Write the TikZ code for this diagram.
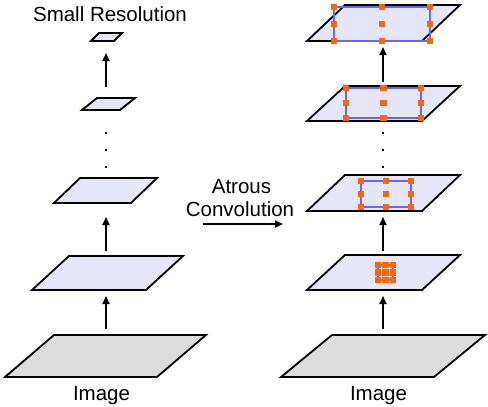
\documentclass[tikz,border=0pt]{standalone}
\usepackage{fontspec}
\setmainfont{Liberation Sans}
\usetikzlibrary{arrows.meta}
\definecolor{lav}{RGB}{230,230,250}
\definecolor{imggray}{RGB}{220,220,220}
\definecolor{myblue}{RGB}{102,102,255}
\definecolor{myorange}{RGB}{255,102,0}
\newcommand\plg[6]{\draw[#1] (#2,#3) -- ++(#4,0) -- ++(#5,-#6) -- ++(-#4,0) -- cycle;}
\newcommand\kgrid[5]{%
  \draw[bluerect] (#1,#2) rectangle (#3,#4);
  \foreach \i in {0,0.5,1}{\foreach \j in {0,0.5,1}{%
    \fill[myorange] ({#1+\i*(#3-#1)-#5/2},{#2+\j*(#4-#2)-#5/2}) rectangle ++(#5,#5);}}}
\begin{document}
\begin{tikzpicture}[x=1pt,y=-1pt,
  layer/.style={draw=black, line width=1.8pt, fill=lav, line join=miter},
  imglayer/.style={layer, fill=imggray},
  arr/.style={-{Triangle[length=8pt,width=7pt]}, line width=1.8pt},
  lbl/.style={font=\fontsize{20.5}{24}\selectfont, anchor=base, inner sep=0pt},
  vdot/.style={fill=black, minimum size=2.8pt, inner sep=0pt, draw=none},
  bluerect/.style={draw=myblue, line width=1.8pt}]
\useasboundingbox (0,0) rectangle (488,407);
% left column
\plg{imglayer}{5}{377}{152}{49}{42}
\plg{layer}{32}{290}{114}{37}{34}
\plg{layer}{54}{203}{77}{26}{25}
\plg{layer}{82}{110}{38}{15}{12}
\plg{layer}{91}{41}{23}{8}{8}
% right column
\plg{imglayer}{281}{377}{153}{51}{42}
\plg{layer}{307}{290}{115}{38}{35}
\plg{layer}{307}{211}{115}{38}{36}
\plg{layer}{307}{121}{115}{38}{35}
\plg{layer}{307}{41}{115}{38}{36}
% kernels
\kgrid{378}{265}{393}{280}{6.3}
\kgrid{361}{181}{411}{207}{6.8}
\kgrid{346}{88}{421}{118}{6.8}
\kgrid{334}{7}{430}{41}{6.8}
% labels
\node[lbl] (small) at (110,21) {Small Resolution};
\node[lbl] (imgL) at (101.5,400) {Image};
\node[lbl] (imgR) at (378.5,400) {Image};
\node[lbl] (atr1) at (241.5,193) {Atrous};
\node[lbl] (atr2) at (240,216) {Convolution};
% arrow endpoints
\coordinate (la1) at (106,329); \coordinate (lb1) at (106,296);
\coordinate (la2) at (106,251); \coordinate (lb2) at (106,217);
\coordinate (la3) at (106,87);  \coordinate (lb3) at (106,53);
\coordinate (ra1) at (383,329); \coordinate (rb1) at (383,296);
\coordinate (ra2) at (383,251); \coordinate (rb2) at (383,217);
\coordinate (ra3) at (383,82);  \coordinate (rb3) at (383,47);
\coordinate (ha) at (203,224);  \coordinate (hb) at (283,224);
\draw[arr] (la1) -- (lb1);
\draw[arr] (la2) -- (lb2);
\draw[arr] (la3) -- (lb3);
\draw[arr] (ra1) -- (rb1);
\draw[arr] (ra2) -- (rb2);
\draw[arr] (ra3) -- (rb3);
\draw[arr] (ha) -- (hb);
% vertical dots
\foreach \y [count=\k] in {133,150,167}{
  \node[vdot] (ld\k) at (106,\y) {};
  \node[vdot] (rd\k) at (383,\y) {};
}
\end{tikzpicture}
\end{document}
